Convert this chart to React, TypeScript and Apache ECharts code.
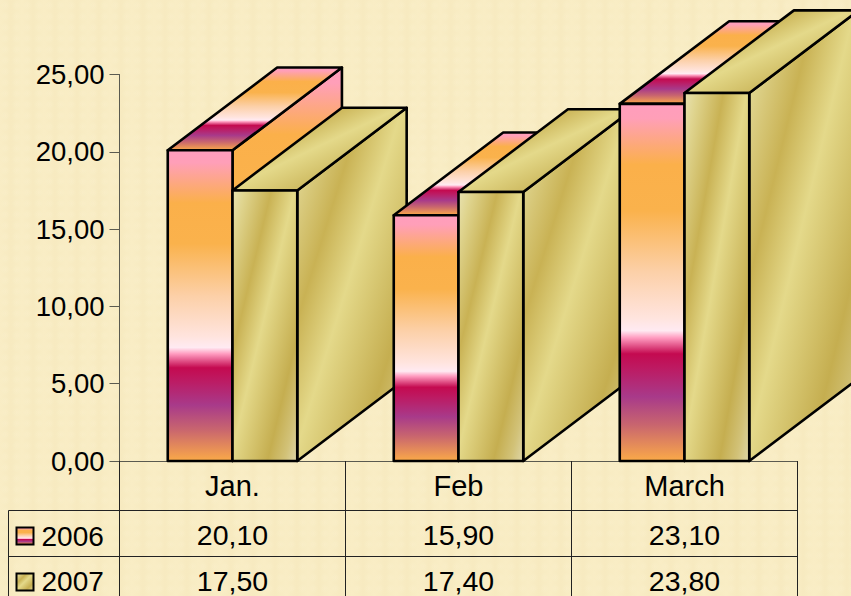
import React, { useEffect, useRef } from "react";
import * as echarts from "echarts";

const categories = ["Jan.", "Feb", "March"];
const seriesNames = ["2006", "2007"];
const values2006 = [20.1, 15.9, 23.1];
const values2007 = [17.5, 17.4, 23.8];
const valueTicks = { min: 0, max: 25, interval: 5 };

const FONT = "Liberation Sans, Arial, sans-serif";

const fireStops = [
  [0, "#ff9dbd"], [0.04, "#ff9fb8"], [0.17, "#fbb04a"], [0.3, "#fab24c"],
  [0.47, "#fcd0a8"], [0.6, "#ffe4de"], [0.635, "#ffeaf2"], [0.655, "#ff9cc0"],
  [0.7, "#c40a50"], [0.74, "#bd1a62"], [0.82, "#a83a8a"], [0.9, "#c9666e"], [1, "#fbaa48"],
];
const goldStops = [
  [0, "#e8e2b0"], [0.1, "#dfd48e"], [0.3, "#c9b254"], [0.48, "#e4d98a"],
  [0.77, "#c5ae50"], [0.9, "#d2c278"], [1, "#ded6a8"],
];
const fireV = () => ({
  type: "linear", x: 0, y: 0, x2: 0, y2: 1,
  colorStops: fireStops.map(([offset, color]) => ({ offset, color })),
});
const goldDiag = () => ({
  type: "linear", x: 0, y: 0, x2: 1, y2: 1,
  colorStops: goldStops.map(([offset, color]) => ({ offset, color })),
});

const fmt = (v: number) => v.toFixed(2).replace(".", ",");

function makeRenderItem(seriesIndex: number) {
  return (_params: any, api: any) => {
    const cat = api.value(0);
    const [cx, yTop] = api.coord([cat, api.value(1)]);
    const [, yBase] = api.coord([cat, 0]);
    const band = api.size([1, 0])[0];
    const bw = band * 0.2865;
    const dx = bw * 1.69;
    const dy = bw * 1.277;
    const x0 = seriesIndex === 0 ? cx - bw : cx;
    const x1 = x0 + bw;
    const z = cat * 10 + seriesIndex * 4;
    const stroke = { stroke: "#000", lineWidth: 2.6, lineJoin: "round" };
    const fill = seriesIndex === 0 ? fireV : goldDiag;
    return {
      type: "group",
      children: [
        {
          type: "polygon", z2: z + 1,
          shape: { points: [[x1, yTop], [x1 + dx, yTop - dy], [x1 + dx, yBase - dy], [x1, yBase]] },
          style: { fill: fill(), ...stroke },
        },
        {
          type: "polygon", z2: z + 2,
          shape: { points: [[x0, yTop], [x0 + dx, yTop - dy], [x1 + dx, yTop - dy], [x1, yTop]] },
          style: { fill: fill(), ...stroke },
        },
        {
          type: "rect", z2: z + 3,
          shape: { x: x0, y: yTop, width: bw, height: yBase - yTop },
          style: { fill: fill(), ...stroke },
        },
      ],
    };
  };
}

const hLine = (x1: number, y1: number, x2: number, y2: number) => ({
  type: "line", shape: { x1, y1, x2, y2 }, style: { stroke: "#222", lineWidth: 1 }, silent: true,
});
const cellText = (text: string, x: number, y: number, size: number, textAlign = "center") => ({
  type: "text", x, y,
  style: { text, fill: "#000", font: `${size}px ${FONT}`, textAlign, textVerticalAlign: "middle" },
  silent: true,
});

export default function App() {
  const ref = useRef<HTMLDivElement>(null);
  useEffect(() => {
    const chart = echarts.init(ref.current!, undefined, { renderer: "svg" });
    const columns = [232.5, 458.5, 684.5];
    const rows: [number, number[], any][] = [
      [536.5, values2006, fireV()],
      [581.5, values2007, goldDiag()],
    ];
    const graphicElements: any[] = [
      hLine(8.5, 510.5, 797.5, 510.5),
      hLine(8.5, 556.5, 797.5, 556.5),
      hLine(8.5, 510.5, 8.5, 596),
    ];
    rows.forEach(([y, vals, fill], r) => {
      graphicElements.push({
        type: "rect",
        shape: { x: 16.5, y: r === 0 ? 527.5 : 573.5, width: 17, height: 17 },
        style: { fill, stroke: "#000", lineWidth: 2 },
        silent: true,
      });
      graphicElements.push(cellText(seriesNames[r], 41.5, y, 28, "left"));
      vals.forEach((v, c) => graphicElements.push(cellText(fmt(v), columns[c], r === 0 ? 535 : 581, 28.5)));
    });

    chart.setOption({
      animation: false,
      backgroundColor: "transparent",
      grid: { left: 119.5, right: 53.5, top: 74.5, bottom: 135 },
      xAxis: {
        type: "category",
        data: categories,
        axisLine: { lineStyle: { color: "#5a5a50", width: 1 } },
        axisTick: { show: true, length: 135, lineStyle: { color: "#222", width: 1 } },
        axisLabel: { color: "#000", fontFamily: FONT, fontSize: 29, margin: 10 },
        splitLine: { show: false },
      },
      yAxis: {
        type: "value",
        min: valueTicks.min,
        max: valueTicks.max,
        interval: valueTicks.interval,
        axisLine: { show: true, lineStyle: { color: "#5a5a50", width: 1 } },
        axisTick: { show: true, length: 10, lineStyle: { color: "#5a5a50", width: 1 } },
        axisLabel: { color: "#000", fontFamily: FONT, fontSize: 27.5, margin: 15, formatter: (v: number) => fmt(v) },
        splitLine: { show: false },
      },
      series: [values2006, values2007].map((vals, i) => ({
        type: "custom",
        name: seriesNames[i],
        coordinateSystem: "cartesian2d",
        clip: false,
        renderItem: makeRenderItem(i),
        encode: { x: 0, y: 1 },
        data: vals.map((v, c) => [c, v]),
      })),
      graphic: { elements: graphicElements },
    });
    return () => chart.dispose();
  }, []);
  return (
    <div
      ref={ref}
      style={{
        position: "absolute", left: 0, top: 0, width: 851, height: 596, overflow: "hidden",
        backgroundColor: "#f8ecc2",
        backgroundImage:
          "radial-gradient(circle at 50% 50%, rgba(255,250,225,0.14) 0px, rgba(255,250,225,0) 5px), repeating-linear-gradient(90deg, #f9edc5 0px, #f7eac0 11px, #f9edc5 22px)",
        backgroundSize: "11px 11px, auto",
      }}
    />
  );
}
